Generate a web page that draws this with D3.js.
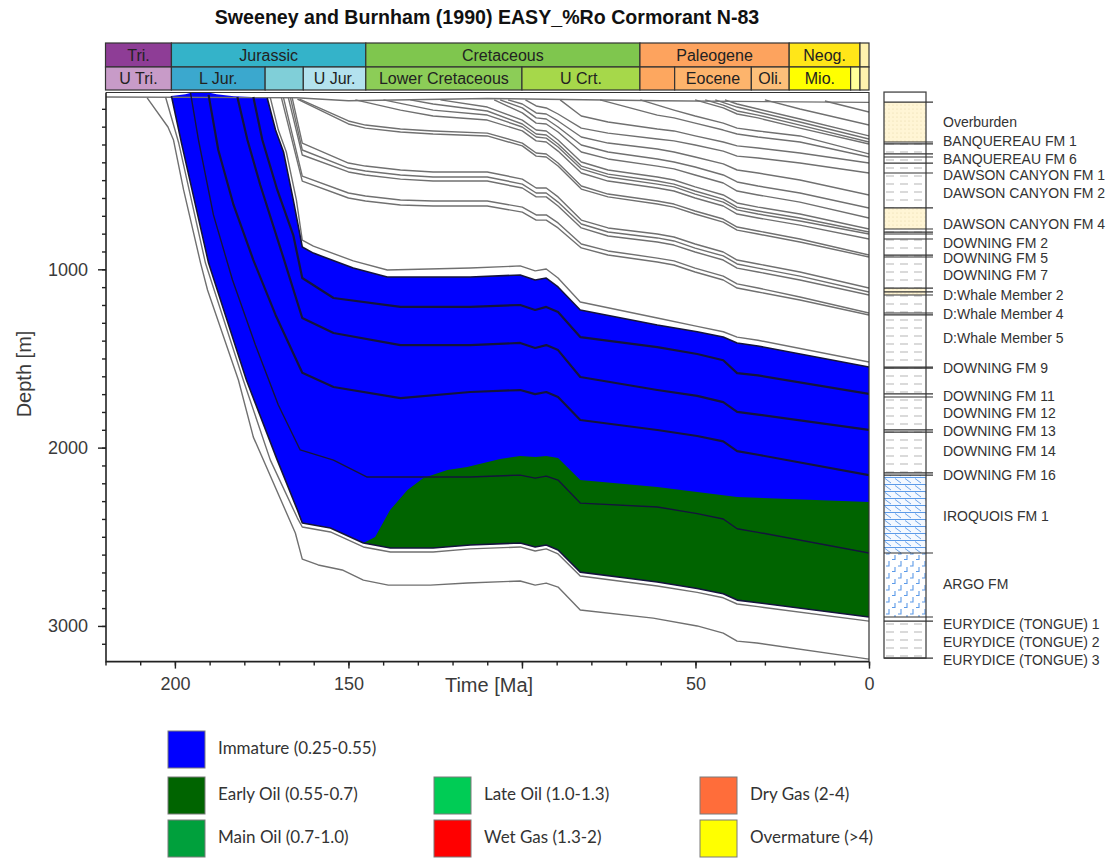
<!DOCTYPE html>
<html><head><meta charset="utf-8">
<script src="https://cdn.jsdelivr.net/npm/d3@7"></script>
<style>body{margin:0;background:#fff;} svg{display:block;}</style>
</head><body>
<svg id="chart" width="1115" height="861"></svg>
<script>
// ---------------- DATA ----------------
const TITLE = "Sweeney and Burnham (1990) EASY_%Ro Cormorant N-83";
const TIME_TICKS = [200, 150, 100, 50, 0];
const TIME_TICK_LABELS = [200, 150, 50, 0];   // 100 is hidden behind the axis title
const TIME_MINOR_STEP = 10;
const DEPTH_TICKS = [1000, 2000, 3000];
const DEPTH_MINOR_STEP = 100;

// geologic time scale header
const ROW1_NAMES  = ["Tri.", "Jurassic", "Cretaceous", "Paleogene", "Neog.", ""];
const ROW1_BOUNDS = [220, 201, 145, 66, 23, 2.6, 0];
const ROW1_COLORS = ["#8E3D96", "#34B3C9", "#7FC64E", "#FDA35E", "#FFE619", "#FFF2AE"];
const ROW2_NAMES  = ["U Tri.", "L Jur.", "", "U Jur.", "Lower Cretaceous", "U Crt.", "", "Eocene", "Oli.", "Mio.", "", ""];
const ROW2_BOUNDS = [220, 201, 174, 163, 145, 100, 66, 56, 33.9, 23, 5.3, 2.6, 0];
const ROW2_COLORS = ["#C89BC8", "#3BA8CE", "#80CFD8", "#B3E2EE", "#8CCD57", "#A6D84A", "#FDA75F", "#FDB46C", "#FDC07A", "#FFFF00", "#FFFF99", "#FFF2AE"];

// burial history horizons: [age Ma, depth m]
const SURFACE = [[220,34],[165,38],[150,55],[110,42],[60,55],[0,64]];
const EURYDICE3_BASE = [[208,39],[202,202],[200.4,275],[197.5,555],[192.6,965],[190.6,1116],[181.7,1621],[177.4,1941],[165.3,2479],[163.3,2625],[158.7,2658],[151.8,2686],[145.7,2743],[138.5,2771],[126.4,2771],[115.7,2759],[100.5,2748],[96.2,2771],[93,2760],[89.6,2782],[83.2,2911],[62.2,2956],[49.5,3000],[42,3040],[38,3085],[32.3,3096],[0,3186]];
const EURYDICE1_BASE = [[202.7,34],[198.9,292],[191.2,965],[180.3,1621],[172.5,2070],[164.7,2395],[163.3,2445],[155.2,2473],[145.7,2557],[137.9,2585],[125.6,2585],[114.9,2568],[100.5,2557],[96.2,2580],[93,2568],[89.6,2596],[83.2,2720],[61,2776],[49.5,2812],[42,2842],[38,2877],[32,2892],[0,2973]];
const EURYDICE1_TOP = [[201,28],[198.1,292],[190.3,965],[179.4,1621],[170.5,2070],[164.7,2350],[163.3,2423],[155.2,2451],[145.7,2535],[137.9,2563],[125.6,2563],[114.9,2546],[100.5,2535],[96.2,2557],[93,2546],[89.6,2574],[83.2,2698],[61,2754],[49.5,2790],[42,2820],[38,2855],[32,2870],[0,2950]];
const ARGO_TOP = [[195.5,10],[193.2,275],[188.9,695],[183.4,1060],[176.8,1425],[170.2,1761],[163.9,2013],[154.3,2070],[144.6,2165],[114.9,2165],[100.5,2154],[96.2,2171],[93,2160],[89.6,2182],[83.2,2311],[61,2333],[49.5,2370],[42,2400],[38,2455],[32,2475],[0,2591]];
const DOWNING16 = [[190.3,22],[187.5,331],[183.1,639],[177.4,948],[171,1256],[163.3,1580],[154.3,1660],[135,1722],[114.9,1688],[100.5,1677],[96.2,1700],[93,1688],[89.6,1716],[83.2,1845],[61,1901],[49.5,1935],[42,1965],[38,2020],[32,2040],[0,2154]];
const DOWNING13 = [[182,34],[179.1,275],[175.4,527],[168.7,937],[163.3,1273],[154.3,1357],[135,1425],[114.9,1425],[100.5,1413],[96.2,1441],[93,1425],[89.6,1453],[83.2,1604],[61,1677],[49.5,1710],[42,1745],[38,1800],[32,1815],[0,1901]];
const DOWNING11 = [[177.4,34],[174.8,275],[170.5,555],[165.9,808],[163.3,1049],[154.3,1161],[135,1211],[114.9,1211],[100.5,1200],[96.2,1228],[93,1211],[89.6,1239],[83.2,1380],[61,1436],[49.5,1475],[42,1510],[38,1582],[32,1595],[0,1699]];
const DOWNING9 = [[173.4,39],[171,219],[168.7,342],[165.9,611],[163.3,875],[160.1,909],[148.6,993],[138.8,1043],[114.9,1043],[100.5,1032],[96.2,1060],[93,1049],[89.6,1099],[83.2,1228],[61,1312],[49.5,1350],[42,1380],[38,1413],[32,1430],[0,1548]];
const DOWNING9_TOP = [[172.5,39],[170.2,219],[167.9,342],[165,611],[163.3,836],[160.1,870],[148.6,953],[138.8,1004],[114.9,993],[100.5,981],[96.2,1009],[93,998],[89.6,1049],[83.2,1183],[61,1273],[49.5,1320],[42,1350],[38,1380],[32,1398],[0,1520]];
const WHALE4_BASE = [[169.3,39],[163.3,505],[150,600],[145.1,617],[135,639],[125.6,645],[110,645],[99.9,679],[95.9,724],[93,724],[89.6,768],[82.9,880],[75.2,920],[61,959],[56.2,976],[50.1,1015],[42,1060],[38,1105],[32,1127],[19.9,1172],[0,1256]];
const WHALE4_TOP = [[168.7,39],[163.3,477],[150,572],[145.1,589],[135,611],[125.6,617],[110,617],[99.9,651],[95.9,695],[93,695],[89.6,740],[82.9,858],[75.2,897],[61,937],[56.2,953],[50.1,993],[42,1038],[38,1082],[32,1105],[19.9,1155],[0,1245]];
const WHALE2_A = [[167.3,39],[163.3,359],[150,454],[145.1,471],[135,494],[125.6,505],[110,505],[99.9,544],[95.9,594],[93,594],[89.6,645],[82.9,768],[75.2,813],[61,847],[56.2,864],[50.1,903],[42,948],[38,993],[32,1015],[19.9,1060],[0,1144]];
const WHALE2_B = [[166.7,39],[163.3,331],[150,432],[145.1,449],[135,471],[125.6,482],[110,482],[99.9,522],[95.9,572],[93,572],[89.6,623],[82.9,746],[75.2,791],[61,824],[56.2,841],[50.1,881],[42,925],[38,970],[32,993],[19.9,1038],[0,1127]];
const WHALE2_C = [[166.2,39],[163.3,292],[150,404],[145.1,421],[135,443],[125.6,454],[110,454],[99.9,494],[95.9,544],[93,544],[89.6,594],[82.9,724],[75.2,768],[61,802],[56.2,819],[50.1,858],[42,903],[38,948],[32,970],[19.9,1015],[0,1105]];
const DOWNING5_A = [[164.7,45],[150,185],[145.1,208],[135,230],[125.6,241],[110,252],[99.9,308],[95.9,365],[93,370],[89.6,421],[82.9,550],[75.2,594],[61,634],[56.2,651],[50.1,690],[42,735],[38,780],[32,802],[19.9,847],[0,931]];
const DOWNING5_B = [[164.1,45],[150,168],[145.1,191],[135,213],[125.6,224],[110,236],[99.9,292],[95.9,348],[93,353],[89.6,404],[82.9,533],[75.2,578],[61,617],[56.2,634],[50.1,673],[42,718],[38,763],[32,785],[19.9,830],[0,920]];
const DOWNING2_A = [[148,50],[135,107],[125.6,140],[110,163],[99.9,224],[95.9,280],[93,286],[89.6,337],[82.9,460],[75.2,505],[61,544],[56.2,561],[50.1,600],[42,645],[38,690],[32,712],[19.9,752],[0,830]];
const DOWNING2_B = [[139.9,50],[125.6,107],[110,135],[99.9,202],[95.9,258],[93,264],[89.6,314],[82.9,437],[75.2,482],[61,522],[56.2,538],[50.1,578],[42,623],[38,667],[32,690],[19.9,729],[0,802]];
const DOWNING2_C = [[132.2,50],[125.6,73],[110,112],[99.9,185],[95.9,241],[93,247],[89.6,297],[82.9,421],[75.2,466],[61,505],[56.2,522],[50.1,561],[42,606],[38,651],[32,673],[19.9,712],[0,791]];
const DAWSON4_BASE = [[123.5,50],[110,90],[99.9,163],[95.9,219],[93,224],[89.6,275],[82.9,398],[75.2,443],[61,482],[56.2,499],[50.1,538],[42,583],[38,628],[32,651],[19.9,690],[0,774]];
const DAWSON4_MID = [[108,50],[99.9,123],[95.9,180],[93,185],[89.6,230],[82.9,342],[75.2,381],[61,421],[56.2,437],[50.1,471],[42,516],[38,561],[32,583],[19.9,623],[0,712]];
const DAWSON4_TOP = [[106.3,50],[99.9,95],[95.9,151],[93,157],[89.6,202],[82.9,303],[75.2,342],[61,381],[56.2,398],[50.1,426],[42,471],[38,510],[32,533],[19.9,572],[0,656]];
const DAWSON2_MID = [[104,50],[99.9,73],[95.9,123],[93,129],[89.6,168],[82.9,258],[75.2,292],[61,325],[56.2,342],[50.1,370],[42,409],[38,443],[32,460],[19.9,499],[0,583]];
const DAWSON2_TOP = [[99,50],[95.9,84],[93,95],[89.6,129],[82.9,208],[75.2,236],[61,269],[56.2,280],[50.1,303],[42,337],[38,365],[32,376],[19.9,404],[0,460]];
const DAWSON1_TOP = [[89,50],[82.9,140],[75.2,174],[61,213],[56.2,224],[50.1,252],[42,286],[38,308],[32,320],[19.9,348],[0,404]];
const BANQ6_BASE = [[77.5,50],[61,135],[56.2,151],[50.1,180],[42,219],[38,241],[32,258],[19.9,286],[0,370]];
const BANQ6_TOP = [[65.9,50],[56.2,107],[50.1,140],[42,180],[38,208],[32,224],[19.9,252],[0,353]];
const BANQ1_A = [[50.1,50],[42,95],[38,129],[32,151],[19.9,208],[0,297]];
const BANQ1_B = [[47.2,50],[42,79],[38,112],[32,135],[19.9,191],[0,286]];
const BANQ1_C = [[44.3,50],[38,90],[32,118],[19.9,174],[0,269]];
const BANQ1_D = [[41.5,50],[38,73],[32,101],[19.9,157],[0,252]];
const OVERBURDEN_A = [[30,50],[19.9,101],[0,191]];
const OVERBURDEN_B = [[12.7,56],[0,118]];

// top edge of the immature zone before DOWNING 9 deposition
const BLUE_TOP_EARLY = [[201,28],[197,18],[194.5,6],[191,6],[188,18],[183,30],[178,34],[173.4,39]];
// %Ro = 0.55 contour (immature / early oil boundary)
const RO_055 = [[145.7,2535],[142.3,2501],[138,2350],[133,2238],[128.4,2171],[121.5,2126],[115.8,2109],[106.3,2064],[100.5,2047],[96.2,2053],[93,2047],[89.6,2058],[83.2,2182],[61,2221],[38,2277],[0,2305]];

// lithology column (present-day depths, m)
const LITH_TOP  = [6, 62, 286, 656, 774, 1105, 1144, 2154, 2591, 2950, 2973];
const LITH_BASE = [62, 286, 656, 774, 1105, 1144, 2154, 2591, 2950, 2973, 3180];
const LITH_TYPE = ["none","sand","shale","sand","shale","sand","shale","lime","argo","shale","shale"];
const LITH_BOUNDS = [62,286,297,353,370,404,460,656,774,791,802,830,920,931,1105,1127,1144,1245,1256,1548,1554,1699,1716,1901,1913,2142,2154,2591,2950,2973,3180];
const FM_NAMES = ["Overburden","BANQUEREAU FM 1","BANQUEREAU FM 6","DAWSON CANYON FM 1","DAWSON CANYON FM 2","DAWSON CANYON FM 4","DOWNING FM 2","DOWNING FM 5","DOWNING FM 7","D:Whale Member 2","D:Whale Member 4","D:Whale Member 5","DOWNING FM 9","DOWNING FM 11","DOWNING FM 12","DOWNING FM 13","DOWNING FM 14","DOWNING FM 16","IROQUOIS FM 1","ARGO FM","EURYDICE (TONGUE) 1","EURYDICE (TONGUE) 2","EURYDICE (TONGUE) 3"];
const FM_LABEL_DEPTH = [179,286,387,477,578,752,858,942,1038,1150,1256,1391,1559,1716,1812,1913,2025,2159,2389,2771,2995,3096,3197];

// legend
const LEGEND_NAMES  = ["Immature (0.25-0.55)","Early Oil (0.55-0.7)","Main Oil (0.7-1.0)","Late Oil (1.0-1.3)","Wet Gas (1.3-2)","Dry Gas (2-4)","Overmature (>4)"];
const LEGEND_COLORS = ["#0000FF","#006400","#00A03C","#00CC55","#FF0000","#FF6D3A","#FFFF00"];

// ---------------- DRAWING ----------------
const FONT = "'Liberation Sans', Arial, sans-serif";
const svg = d3.select("#chart");
const defs = svg.append("defs");

const x = d3.scaleLinear().domain([220, 0]).range([105.5, 869]);
const y = d3.scaleLinear().domain([0, 3200]).range([91, 661.6]);
const line = d3.line().x(p => x(p[0])).y(p => y(p[1]));

// title
svg.append("text").attr("x", 487).attr("y", 24).attr("text-anchor", "middle")
  .style("font", "bold 19.6px " + FONT).attr("fill", "#111").text(TITLE);

// header rows
function headerRow(names, bounds, colors, y0, y1, base) {
  const g = svg.append("g");
  names.forEach((n, i) => {
    const xa = x(bounds[i]), xb = x(bounds[i + 1]);
    g.append("rect").attr("x", xa).attr("y", y0).attr("width", xb - xa).attr("height", y1 - y0)
      .attr("fill", colors[i]).attr("stroke", "#333").attr("stroke-width", 1.2);
    if (n) g.append("text").attr("x", (xa + xb) / 2).attr("y", base).attr("text-anchor", "middle")
      .style("font", "16px " + FONT).attr("fill", "#222").text(n);
  });
}
headerRow(ROW1_NAMES, ROW1_BOUNDS, ROW1_COLORS, 43, 67, 61);
headerRow(ROW2_NAMES, ROW2_BOUNDS, ROW2_COLORS, 67, 90, 84);

// clip
defs.append("clipPath").attr("id", "plotClip").append("rect")
  .attr("x", 106).attr("y", 91).attr("width", 763).attr("height", 570.6);
const plot = svg.append("g").attr("clip-path", "url(#plotClip)");

// fills
const bluePoly = EURYDICE1_TOP.concat(DOWNING9.slice().reverse(), BLUE_TOP_EARLY.slice().reverse());
plot.append("path").attr("d", line(bluePoly) + "Z").attr("fill", "#0000FF");
const greenPoly = RO_055.concat(EURYDICE1_TOP.filter(p => p[0] <= 145.7).reverse());
plot.append("path").attr("d", line(greenPoly) + "Z").attr("fill", "#006400");

// gray horizons
const GRAY = [SURFACE, EURYDICE3_BASE, EURYDICE1_BASE, DOWNING9_TOP, WHALE4_BASE, WHALE4_TOP, WHALE2_A, WHALE2_B, WHALE2_C,
  DOWNING5_A, DOWNING5_B, DOWNING2_A, DOWNING2_B, DOWNING2_C, DAWSON4_BASE, DAWSON4_MID, DAWSON4_TOP, DAWSON2_MID, DAWSON2_TOP,
  DAWSON1_TOP, BANQ6_BASE, BANQ6_TOP, BANQ1_A, BANQ1_B, BANQ1_C, BANQ1_D, OVERBURDEN_A, OVERBURDEN_B];
GRAY.forEach(h => plot.append("path").attr("d", line(h)).attr("fill", "none")
  .attr("stroke", "#707070").attr("stroke-width", 1.4).attr("stroke-linejoin", "round"));

// dark horizons inside the maturity zones
[[DOWNING16, 2.2], [DOWNING13, 2.2], [DOWNING11, 2.2], [DOWNING9, 1.6], [ARGO_TOP, 1.4], [EURYDICE1_TOP, 1.6]].forEach(([h, w]) =>
  plot.append("path").attr("d", line(h)).attr("fill", "none")
    .attr("stroke", "#14143c").attr("stroke-width", w).attr("stroke-linejoin", "round"));

// frame
svg.append("path").attr("d", `M106,92.5H869V661.6`).attr("fill", "none").attr("stroke", "#333").attr("stroke-width", 1.2);
svg.append("path").attr("d", `M106,92.5V661.6H869`).attr("fill", "none").attr("stroke", "#222").attr("stroke-width", 1.6);

// axes
function styleAxis(g) {
  g.select(".domain").remove();
  g.selectAll(".tick line").attr("stroke", "#222").attr("stroke-width", 1.4);
  g.selectAll(".tick text").style("font", "18px " + FONT).attr("fill", "#3a3a3a");
}
svg.append("g").attr("transform", "translate(106,0)")
  .call(d3.axisLeft(y).tickValues(d3.range(DEPTH_MINOR_STEP, 3200, DEPTH_MINOR_STEP)).tickSize(4).tickFormat(""))
  .call(styleAxis);
svg.append("g").attr("transform", "translate(106,0)")
  .call(d3.axisLeft(y).tickValues(DEPTH_TICKS).tickSize(8).tickPadding(10).tickFormat(d3.format("d")))
  .call(styleAxis);
svg.append("g").attr("transform", "translate(0,661.6)")
  .call(d3.axisBottom(x).tickValues(d3.range(0, 221, TIME_MINOR_STEP)).tickSize(4).tickFormat(""))
  .call(styleAxis);
svg.append("g").attr("transform", "translate(0,661.6)")
  .call(d3.axisBottom(x).tickValues(TIME_TICKS).tickSize(7).tickPadding(9)
    .tickFormat(d => TIME_TICK_LABELS.includes(d) ? d3.format("d")(d) : ""))
  .call(styleAxis);

svg.append("text").attr("x", 489).attr("y", 692).attr("text-anchor", "middle")
  .style("font", "20px " + FONT).attr("fill", "#3a3a3a").text("Time [Ma]");
svg.append("text").attr("transform", "translate(31,374) rotate(-90)").attr("text-anchor", "middle")
  .style("font", "20px " + FONT).attr("fill", "#3a3a3a").text("Depth [m]");

// ---- lithology column ----
function pat(id, w, h, build) {
  const p = defs.append("pattern").attr("id", id).attr("patternUnits", "userSpaceOnUse")
    .attr("width", w).attr("height", h).attr("x", 884).attr("y", 92);
  build(p);
}
pat("shale", 14, 8, p => {
  p.append("rect").attr("width", 14).attr("height", 8).attr("fill", "#fff");
  p.append("line").attr("x1", 2).attr("x2", 10).attr("y1", 4).attr("y2", 4).attr("stroke", "#b5b5b5").attr("stroke-width", 1);
});
pat("sand", 4, 4, p => {
  p.append("rect").attr("width", 4).attr("height", 4).attr("fill", "#FFF5D5");
  p.append("circle").attr("cx", 1).attr("cy", 1).attr("r", 0.6).attr("fill", "#e6d7a8");
});
pat("lime", 10, 7, p => {
  p.append("rect").attr("width", 10).attr("height", 7).attr("fill", "#f3f8ff");
  p.append("line").attr("x1", 0).attr("x2", 10).attr("y1", 0.5).attr("y2", 0.5).attr("stroke", "#5b9ae8").attr("stroke-width", 1);
  p.append("line").attr("x1", 1).attr("x2", 7).attr("y1", 1.5).attr("y2", 6).attr("stroke", "#5b9ae8").attr("stroke-width", 0.9);
});
pat("argo", 12, 12, p => {
  p.append("rect").attr("width", 12).attr("height", 12).attr("fill", "#fff");
  p.append("path").attr("d", "M5,1v5h-3M11,7v4.5h-3").attr("fill", "none").attr("stroke", "#5b9ae8").attr("stroke-width", 1.1);
});
const fillFor = { none: "#fff", sand: "url(#sand)", shale: "url(#shale)", lime: "url(#lime)", argo: "url(#argo)" };
const col = svg.append("g");
LITH_TYPE.forEach((t, i) => {
  col.append("rect").attr("x", 884).attr("y", y(LITH_TOP[i])).attr("width", 42)
    .attr("height", y(LITH_BASE[i]) - y(LITH_TOP[i])).attr("fill", fillFor[t]);
});
col.append("rect").attr("x", 884).attr("y", y(LITH_TOP[0])).attr("width", 42)
  .attr("height", y(LITH_BASE[LITH_BASE.length - 1]) - y(LITH_TOP[0]))
  .attr("fill", "none").attr("stroke", "#444").attr("stroke-width", 1.3);
LITH_BOUNDS.forEach(d => col.append("line").attr("x1", 884).attr("x2", 933)
  .attr("y1", y(d)).attr("y2", y(d)).attr("stroke", "#333").attr("stroke-width", 1.2));
FM_NAMES.forEach((n, i) => col.append("text").attr("x", 943).attr("y", y(FM_LABEL_DEPTH[i]))
  .attr("dominant-baseline", "middle").style("font", "14px " + FONT).attr("fill", "#333").text(n));

// ---- legend ----
const LEG_COL_X = [168, 434, 700], LEG_ROW_Y = [731, 777, 820];
const legPos = [[0,0],[0,1],[0,2],[1,1],[1,2],[2,1],[2,2]];
LEGEND_NAMES.forEach((n, i) => {
  const [c, r] = legPos[i];
  svg.append("rect").attr("x", LEG_COL_X[c]).attr("y", LEG_ROW_Y[r]).attr("width", 37).attr("height", 37)
    .attr("fill", LEGEND_COLORS[i]).attr("stroke", "#7a7a7a").attr("stroke-width", 1);
  svg.append("text").attr("x", LEG_COL_X[c] + 50).attr("y", LEG_ROW_Y[r] + 19)
    .attr("dominant-baseline", "middle").style("font", "17px Lato, 'Open Sans', sans-serif")
    .attr("fill", "#333").text(n);
});
</script>
</body></html>
